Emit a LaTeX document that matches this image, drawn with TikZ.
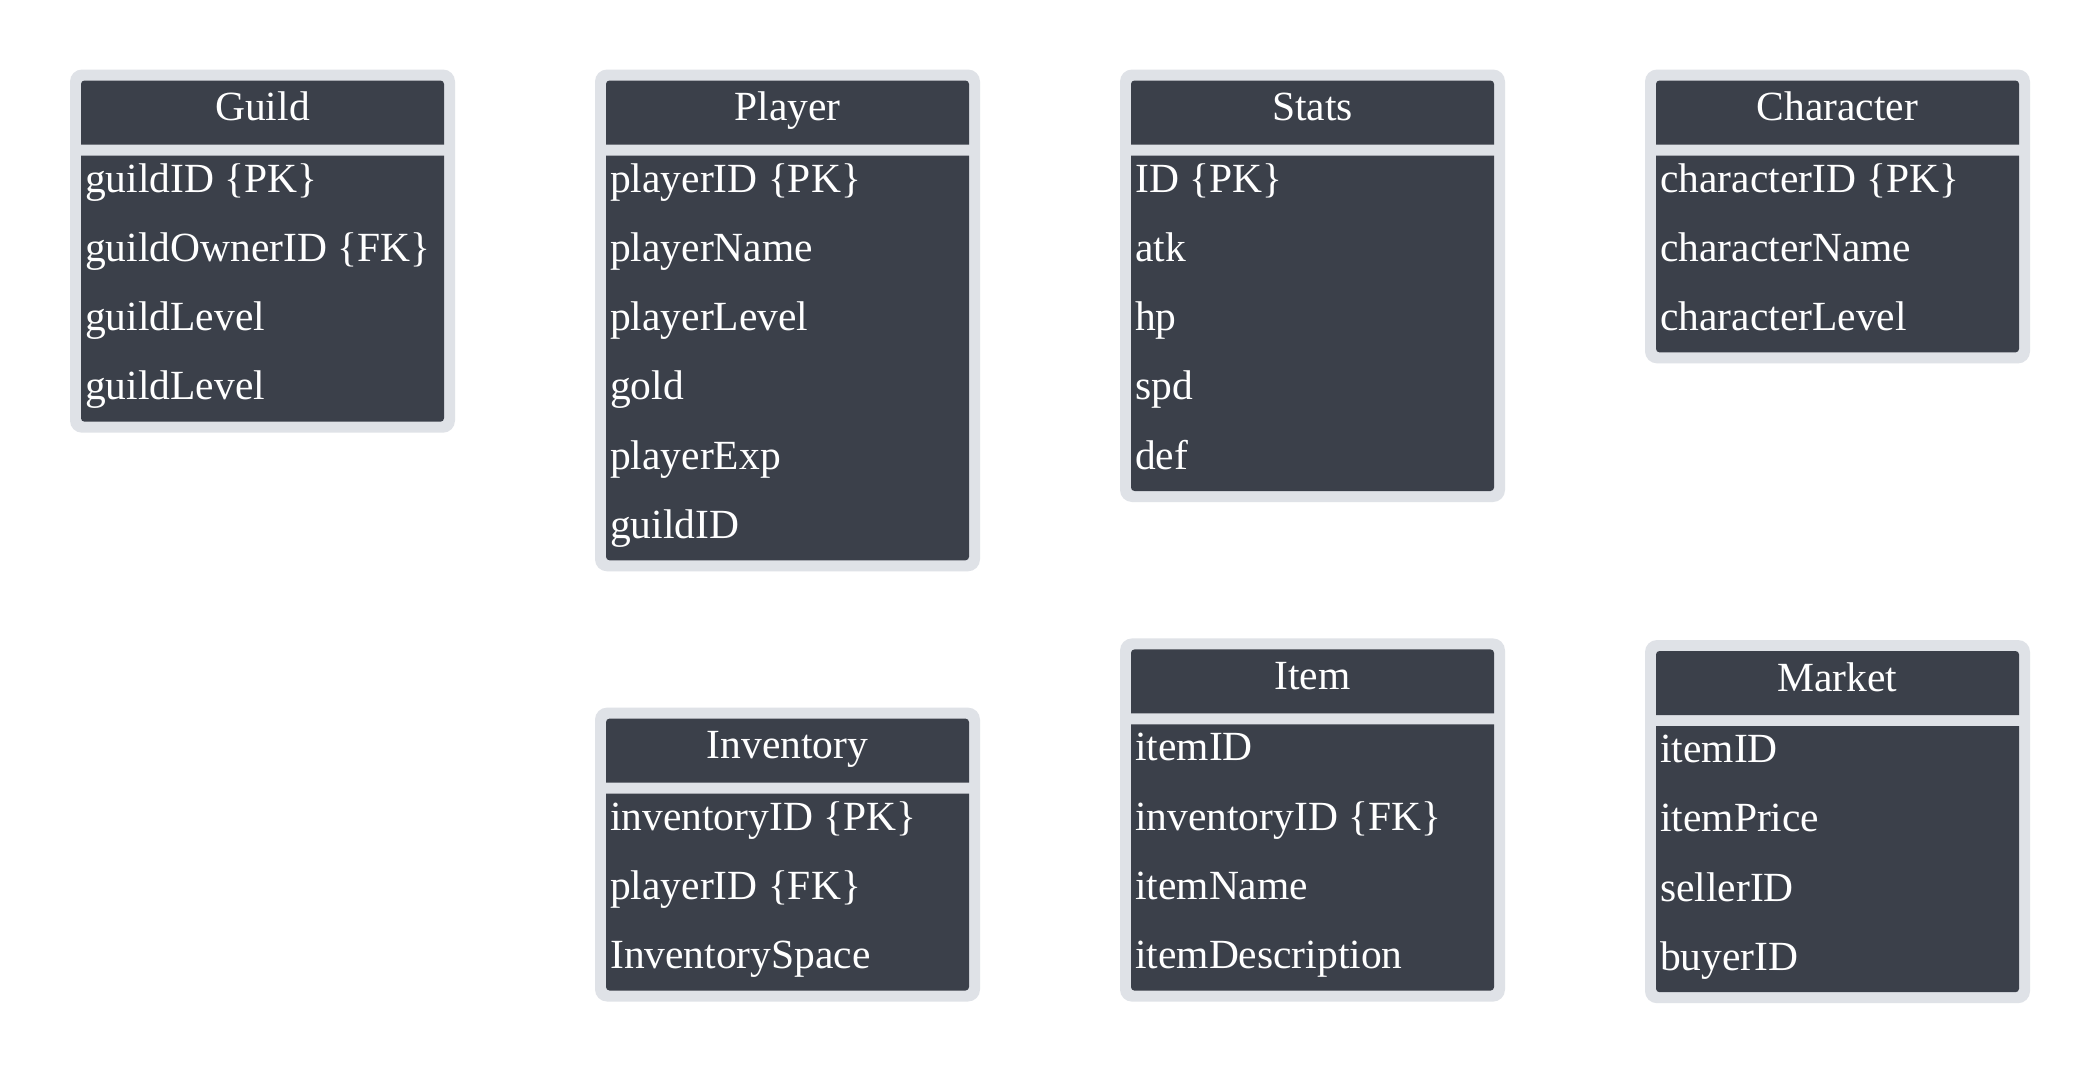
\documentclass[tikz,border=0pt]{standalone}
\usepackage{fontspec}
\setmainfont{Liberation Serif}
\definecolor{framegray}{HTML}{DFE2E7}
\definecolor{panel}{HTML}{3B404A}
\tikzset{
  frame/.style={fill=framegray, rounded corners=12pt, inner sep=0pt, outer sep=0pt},
  panelbox/.style={fill=panel},
  ttl/.style={text=white, font=\fontsize{41.5}{48}\selectfont, inner sep=0pt},
  attr/.style={text=white, font=\fontsize{41.5}{48}\selectfont, inner sep=0pt}
}
% #1 name, #2 left x, #3 top y, #4 title, #5 number of rows, #6 rows
\newcommand{\erdtable}[6]{%
  \node[frame, minimum width=385pt, minimum height={86pt+69.3pt*#5}, anchor=north west] (#1) at (#2,#3) {};
  \path[panelbox] (#2+11,#3+75) [rounded corners=3.5pt] -- (#2+11,#3+11) -- (#2+374,#3+11) [sharp corners] -- (#2+374,#3+75) -- cycle;
  \path[panelbox] (#2+11,#3+86) [rounded corners=3.5pt] -- (#2+11,{#3+75+69.3*#5}) -- (#2+374,{#3+75+69.3*#5}) [sharp corners] -- (#2+374,#3+86) -- cycle;
  \node[ttl, anchor=base] (#1-title) at (#2+192.5,#3+51) {#4};
  \foreach \txt [count=\i from 0] in {#6} {%
    \node[attr, anchor=base west] (#1-r\i) at (#2+15,{#3+122.5+69.3*\i}) {\txt};
  }%
}
\begin{document}
\begin{tikzpicture}[x=1pt,y=-1pt]
\useasboundingbox[fill=white] (0,0) rectangle (2100,1073);
\erdtable{guild}{70}{69.5}{Guild}{4}{guildID \{PK\}, guildOwnerID \{FK\}, guildLevel, guildLevel}
\erdtable{player}{595}{69.5}{Player}{6}{playerID \{PK\}, playerName, playerLevel, gold, playerExp, guildID}
\erdtable{stats}{1120}{69.5}{Stats}{5}{ID \{PK\}, atk, hp, spd, def}
\erdtable{character}{1645}{69.5}{Character}{3}{characterID \{PK\}, characterName, characterLevel}
\erdtable{inventory}{595}{707.6}{Inventory}{3}{inventoryID \{PK\}, playerID \{FK\}, InventorySpace}
\erdtable{item}{1120}{638.4}{Item}{4}{itemID, inventoryID \{FK\}, itemName, itemDescription}
\erdtable{market}{1645}{640}{Market}{4}{itemID, itemPrice, sellerID, buyerID}
\end{tikzpicture}
\end{document}
